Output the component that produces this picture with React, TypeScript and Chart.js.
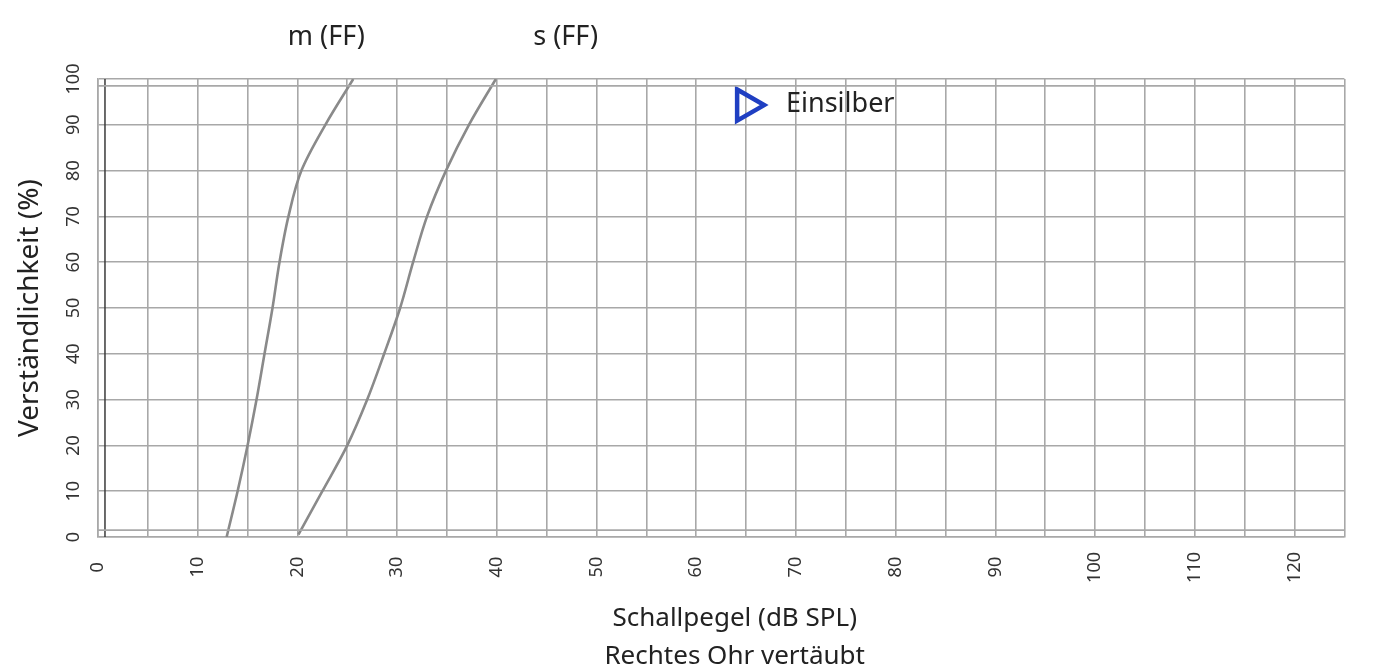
import React, { useEffect, useRef } from 'react';
import { Chart, registerables } from 'chart.js';

Chart.register(...registerables);

// ---- data ----
const scoreSteps = [0, 10, 20, 30, 40, 50, 60, 70, 80, 90, 100];
const mLevels = [12.9, 14.0, 15.0, 15.9, 16.7, 17.5, 18.2, 19.1, 20.4, 22.8, 25.6];
const mScores = [0, 10, 20, 30, 40, 50, 60, 70, 80, 90, 100];
const sLevels = [20.1, 22.5, 25.0, 27.0, 28.7, 30.3, 31.6, 33.0, 34.9, 37.2, 39.9];
const sScores = [0.5, 10, 20, 30, 40, 50, 60, 70, 80, 90, 100];
const curveLabels = ['m (FF)', 's (FF)'];
const curveLabelLevels = [22.9, 46.9];
const legendLabel = 'Einsilber';
const xMin = 0;
const xMax = 125;
const yMin = 0;
const yMax = 100;
const innerTopLine = 98.5;
const innerBottomLine = 1.5;
const innerLeftLine = 0.7;

const FONT = '"Noto Sans", "Open Sans", sans-serif';
const GRID = '#a8a8a8';
const TEXT = '#222222';
const CURVE = '#8a8a8a';
const BLUE = '#1f3fc2';

const toPoints = (xs: number[], ys: number[]) => xs.map((x, i) => ({ x, y: ys[i] }));

const annotations = {
  id: 'annotations',
  afterDatasetsDraw(chart: any) {
    const { ctx, scales, chartArea } = chart;
    const x = scales.x;
    const y = scales.y;
    ctx.save();
    ctx.fillStyle = TEXT;
    ctx.font = `27px ${FONT}`;
    ctx.textAlign = 'center';
    ctx.textBaseline = 'middle';
    curveLabels.forEach((t, i) => {
      ctx.fillText(t, x.getPixelForValue(curveLabelLevels[i]), chartArea.top - 42);
    });
    ctx.textAlign = 'left';
    ctx.fillText(legendLabel, x.getPixelForValue(69.0), y.getPixelForValue(94.5));
    ctx.restore();
  },
};

export default function App() {
  const ref = useRef<HTMLCanvasElement>(null);

  useEffect(() => {
    const canvas = ref.current;
    if (!canvas) return;
    const chart = new Chart(canvas, {
      type: 'line',
      data: {
        datasets: [
          {
            label: 'innerTop',
            data: [{ x: xMin, y: innerTopLine }, { x: xMax, y: innerTopLine }],
            borderColor: GRID,
            borderWidth: 1.6,
            pointRadius: 0,
            tension: 0,
          },
          {
            label: 'innerBottom',
            data: [{ x: xMin, y: innerBottomLine }, { x: xMax, y: innerBottomLine }],
            borderColor: GRID,
            borderWidth: 1.6,
            pointRadius: 0,
            tension: 0,
          },
          {
            label: 'innerLeft',
            data: [{ x: innerLeftLine, y: yMin }, { x: innerLeftLine, y: yMax }],
            borderColor: '#3a3a3a',
            borderWidth: 1.5,
            pointRadius: 0,
            tension: 0,
          },
          {
            label: 'm (FF)',
            indexAxis: 'y',
            data: toPoints(mLevels, mScores),
            borderColor: CURVE,
            borderWidth: 2.6,
            pointRadius: 0,
            cubicInterpolationMode: 'monotone',
          },
          {
            label: 's (FF)',
            indexAxis: 'y',
            data: toPoints(sLevels, sScores),
            borderColor: CURVE,
            borderWidth: 2.6,
            pointRadius: 0,
            cubicInterpolationMode: 'monotone',
          },
          {
            label: legendLabel,
            data: [{ x: 65.0, y: 94.3 }],
            showLine: false,
            pointStyle: 'triangle',
            pointRadius: 18,
            pointRotation: 90,
            pointBorderWidth: 4.5,
            pointBorderColor: BLUE,
            pointBackgroundColor: 'rgba(0,0,0,0)',
          },
        ],
      },
      options: {
        animation: false,
        responsive: false,
        devicePixelRatio: 1,
        layout: { padding: { top: 79, right: 35, left: 0, bottom: 0 } },
        plugins: {
          legend: { display: false },
          tooltip: { enabled: false },
        },
        scales: {
          x: {
            type: 'linear',
            axis: 'x',
            position: 'bottom',
            min: xMin,
            max: xMax,
            afterFit: (s: any) => {
              s.height = 134;
            },
            grid: { color: GRID, lineWidth: 1.6, drawTicks: false },
            border: { display: true, color: GRID, width: 1.6 },
            ticks: {
              stepSize: 5,
              autoSkip: false,
              maxRotation: 90,
              minRotation: 90,
              padding: 15,
              color: '#333',
              font: { family: FONT, size: 18 },
              callback: (v: any) => {
                const n = Number(v);
                if (n % 10 !== 0) return '';
                const s = String(n);
                if (s.length === 1) return s + '\u2007';
                if (s.length === 2) return s + '\u2008';
                return s;
              },
            },
            title: {
              display: true,
              text: ['    Schallpegel (dB SPL)', '    Rechtes Ohr vertäubt'],
              color: TEXT,
              font: { family: FONT, size: 26, lineHeight: '38px' },
              padding: { top: 0, bottom: -5 },
            },
          },
          y: {
            type: 'linear',
            axis: 'y',
            position: 'left',
            min: yMin,
            max: yMax,
            afterFit: (s: any) => {
              s.width = 98;
            },
            grid: { color: GRID, lineWidth: 1.6, drawTicks: false },
            border: { display: true, color: GRID, width: 1.6 },
            ticks: {
              stepSize: 10,
              minRotation: 90,
              maxRotation: 90,
              crossAlign: 'center',
              padding: 9,
              color: '#333',
              font: { family: FONT, size: 18 },
              callback: (v: any) => (scoreSteps.includes(Number(v)) ? String(v) : ''),
            },
            title: {
              display: true,
              text: 'Verständlichkeit (%)',
              color: TEXT,
              font: { family: FONT, size: 28 },
              padding: { top: 13, bottom: 0 },
            },
          },
        },
      },
      plugins: [annotations],
    } as any);
    return () => chart.destroy();
  }, []);

  return (
    <div style={{ position: 'absolute', left: 0, top: 0, width: 1381, height: 671 }}>
      <canvas ref={ref} width={1381} height={671} style={{ display: 'block' }} />
    </div>
  );
}
